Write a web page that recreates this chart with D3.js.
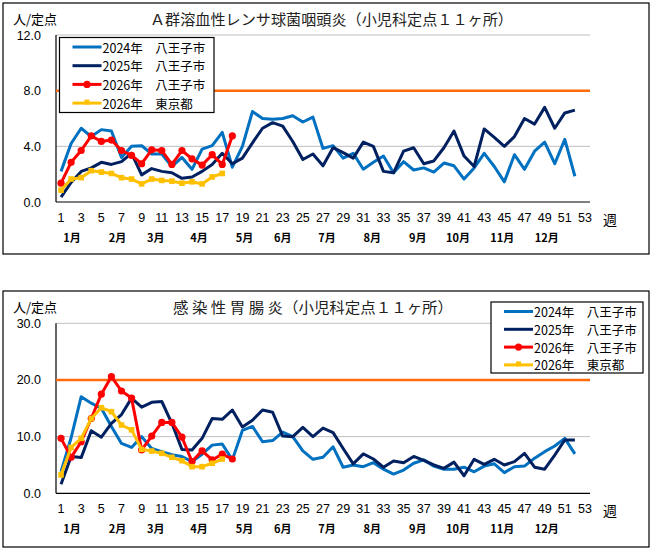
<!DOCTYPE html>
<html><head><meta charset="utf-8">
<script src="https://cdn.jsdelivr.net/npm/d3@7"></script>
<style>
html,body{margin:0;padding:0;background:#fff;}
svg{display:block;font-family:"Noto Sans CJK JP","Noto Sans",sans-serif;}
</style></head>
<body>
<svg id="c" width="654" height="550"></svg>
<script>
// ---- data ----
const weekTicks = d3.range(1, 54, 2);               // 1,3,...,53
const monthLabels = ["1月","2月","3月","4月","5月","6月","7月","8月","9月","10月","11月","12月"];
const monthWeekPos = [2.1, 6.6, 10.4, 14.7, 19.2, 23.0, 27.4, 31.9, 36.4, 40.4, 44.8, 49.2];
const seriesNames = ["2024年　八王子市","2025年　八王子市","2026年　八王子市","2026年　東京都"];

// A群溶血性レンサ球菌咽頭炎
const strepTicks = [0, 4, 8, 12];
const strepThreshold = 8.0;
const strep2024 = [2.2,4.2,5.3,4.7,5.2,5.1,3.2,4.0,4.05,3.45,3.45,2.55,3.2,2.35,3.8,4.05,5.0,2.5,4.0,6.5,
  6.0,5.95,6.0,6.2,5.75,6.1,3.85,4.05,3.15,3.5,2.35,2.85,3.3,2.1,2.9,2.3,2.45,2.15,2.8,2.6,
  1.65,2.45,3.5,2.55,1.45,3.4,2.35,3.65,4.3,2.75,4.5,1.85];
const strep2025 = [0.35,1.4,2.2,2.45,2.85,2.7,2.9,3.5,1.95,2.4,2.2,2.1,1.7,1.8,2.2,2.7,3.5,2.75,3.15,4.25,
  5.3,5.7,5.45,4.35,3.05,3.45,2.6,3.9,3.55,3.15,4.3,4.0,2.2,2.1,3.65,3.9,2.75,2.95,3.9,5.1,
  3.3,2.55,5.25,4.65,4.0,4.7,6.0,5.6,6.8,5.3,6.4,6.6];
const strep2026 = [1.35,2.85,3.7,4.75,4.35,4.45,3.7,3.35,2.75,3.75,3.7,2.7,3.7,3.1,2.65,3.4,2.7,4.75];
const strepTokyo = [0.85,1.65,1.75,2.25,2.15,2.05,1.75,1.65,1.3,1.65,1.55,1.5,1.35,1.45,1.3,1.8,2.05];

// 感染性胃腸炎
const gastroTicks = [0, 10, 20, 30];
const gastroThreshold = 20.0;
const gastro2024 = [3.8,9.8,17.05,15.9,15.0,11.8,8.8,8.1,10.0,7.9,7.35,6.8,6.5,5.6,6.9,8.5,8.7,5.9,11.1,
  11.8,9.1,9.3,10.8,10.0,7.5,6.0,6.35,8.2,4.6,5.0,4.7,5.4,4.25,3.4,4.1,5.3,5.9,
  4.8,4.25,4.25,4.6,3.8,4.8,5.2,3.65,4.7,4.8,6.2,7.35,8.35,9.7,6.95];
const gastro2025 = [1.6,6.5,6.3,11.05,9.9,12.35,13.9,16.8,15.2,16.05,16.2,12.35,7.75,7.65,9.7,13.2,13.05,14.7,11.7,
  12.9,14.7,14.3,10.1,10.0,11.65,10.0,11.5,10.7,7.9,5.2,6.95,6.05,4.6,5.7,5.4,6.5,5.8,
  5.0,4.4,5.5,3.1,6.0,5.1,6.0,5.0,5.6,7.05,4.6,4.25,6.75,9.4,9.4];
const gastro2026 = [9.7,6.35,9.1,13.2,17.5,20.6,18.05,16.8,7.65,10.1,12.5,12.5,9.9,5.6,7.5,5.9,6.9,6.05];
const gastroTokyo = [3.25,8.1,9.7,13.2,15.1,14.4,12.05,11.2,7.75,7.45,7.05,6.35,5.75,4.7,4.7,5.3,6.05];

// ---- styles ----
const colors = ["#0070C0", "#002060", "#FF0000", "#FFC000"];
const thresholdColor = "#FF6A0A";
const svg = d3.select("#c");

function drawChart(o) {
  const g = svg.append("g");
  // frame
  g.append("rect").attr("x", o.box[0]).attr("y", o.box[1]).attr("width", o.box[2]).attr("height", o.box[3])
    .attr("fill", "#fff").attr("stroke", "#000").attr("stroke-width", 1.2);

  const x = d3.scaleBand().domain(d3.range(1, 54)).range([56, 590]);
  const xc = w => x(w) + x.bandwidth() / 2;
  const y = d3.scaleLinear().domain([0, o.ticks[o.ticks.length - 1]]).range([o.y0, o.yTop]);

  // gridlines
  g.append("g").selectAll("line").data(o.ticks.filter(t => t > 0)).join("line")
    .attr("x1", 56).attr("x2", 590).attr("y1", d => y(d)).attr("y2", d => y(d))
    .attr("stroke", "#BFBFBF").attr("stroke-width", 1);

  // y axis labels
  const ya = g.append("g").attr("transform", "translate(56,0)")
    .call(d3.axisLeft(y).tickValues(o.ticks).tickFormat(d3.format(".1f")).tickSize(0).tickPadding(15));
  ya.select(".domain").remove();
  ya.selectAll("text").attr("font-size", 12.5).attr("fill", "#000").attr("font-family", "inherit");

  // x axis labels
  const xa = g.append("g").attr("transform", `translate(0,${o.y0})`)
    .call(d3.axisBottom(x).tickValues(weekTicks).tickSize(0).tickPadding(11));
  xa.select(".domain").remove();
  xa.selectAll("text").attr("font-size", 12.5).attr("fill", "#000").attr("font-family", "inherit");

  // axis lines
  g.append("line").attr("x1", 56).attr("x2", 56).attr("y1", y(o.ticks[o.ticks.length - 1])).attr("y2", y(0))
    .attr("stroke", "#000").attr("stroke-width", 1.2);
  g.append("line").attr("x1", 56).attr("x2", 590).attr("y1", y(0)).attr("y2", y(0))
    .attr("stroke", "#000").attr("stroke-width", 1.2);

  // 週
  g.append("text").attr("x", 610).attr("y", o.y0 + 16.5).attr("text-anchor", "middle")
    .attr("dominant-baseline", "central").attr("font-size", 14).text("週");

  // month labels
  g.append("g").selectAll("text").data(monthLabels).join("text")
    .attr("x", (d, i) => 56 + (monthWeekPos[i] - 0.5) * x.bandwidth())
    .attr("y", o.y0 + 35).attr("text-anchor", "middle").attr("dominant-baseline", "central")
    .attr("font-size", 11).attr("font-weight", "bold").text(d => d);

  // unit & title
  g.append("text").attr("x", 13).attr("y", o.titleY).attr("dominant-baseline", "central")
    .attr("font-size", 13).text("人/定点");
  g.append("text").attr("x", o.titleX).attr("y", o.titleY).attr("dominant-baseline", "central")
    .attr("font-size", 15).attr("fill", "#222").attr("textLength", o.titleW).attr("lengthAdjust", "spacingAndGlyphs")
    .text(o.title);

  // threshold line
  g.append("line").attr("x1", 56).attr("x2", 590).attr("y1", y(o.threshold)).attr("y2", y(o.threshold))
    .attr("stroke", thresholdColor).attr("stroke-width", 2.5);

  // series
  const line = d3.line().x((d, i) => xc(i + 1)).y(d => y(d));
  o.series.forEach((s, k) => {
    g.append("path").datum(s).attr("d", line).attr("fill", "none")
      .attr("stroke", colors[k]).attr("stroke-width", 3).attr("stroke-linejoin", "round");
    if (k === 2) {
      g.append("g").selectAll("circle").data(s).join("circle")
        .attr("cx", (d, i) => xc(i + 1)).attr("cy", d => y(d)).attr("r", 3.6).attr("fill", colors[k]);
    }
    if (k === 3) {
      g.append("g").selectAll("rect").data(s).join("rect")
        .attr("x", (d, i) => xc(i + 1) - 2.8).attr("y", d => y(d) - 2.8)
        .attr("width", 5.6).attr("height", 5.6).attr("fill", colors[k]);
    }
  });

  // legend
  const L = o.legend;
  g.append("rect").attr("x", L.x).attr("y", L.y).attr("width", L.w).attr("height", L.h)
    .attr("fill", "#fff").attr("stroke", "#000").attr("stroke-width", 1.2);
  seriesNames.forEach((n, k) => {
    const yy = L.y + L.first + k * L.step;
    g.append("line").attr("x1", L.x + 13).attr("x2", L.x + 42).attr("y1", yy).attr("y2", yy)
      .attr("stroke", colors[k]).attr("stroke-width", 3);
    if (k === 2) g.append("circle").attr("cx", L.x + 27.5).attr("cy", yy).attr("r", 3.6).attr("fill", colors[k]);
    if (k === 3) g.append("rect").attr("x", L.x + 25).attr("y", yy - 3.5).attr("width", 5).attr("height", 5).attr("fill", colors[k]);
    g.append("text").attr("x", L.x + 43).attr("y", yy).attr("dominant-baseline", "central")
      .attr("font-size", 12.5).attr("fill", "#000").text(n);
  });
}

drawChart({
  box: [3, 3, 646, 251], y0: 202, yTop: 35, ticks: strepTicks, threshold: strepThreshold,
  title: "Ａ群溶血性レンサ球菌咽頭炎（小児科定点１１ヶ所）", titleX: 150, titleW: 363, titleY: 18,
  series: [strep2024, strep2025, strep2026, strepTokyo],
  legend: { x: 59.5, y: 37.5, w: 154.5, h: 75, first: 9.5, step: 18.7 }
});
drawChart({
  box: [3, 291, 646, 256], y0: 493.3, yTop: 323.3, ticks: gastroTicks, threshold: gastroThreshold,
  title: "感 染 性 胃 腸 炎（小児科定点１１ヶ所）", titleX: 173, titleW: 280, titleY: 306,
  series: [gastro2024, gastro2025, gastro2026, gastroTokyo],
  legend: { x: 491, y: 302, w: 152, h: 71, first: 9.5, step: 17.8 }
});
</script>
</body></html>
